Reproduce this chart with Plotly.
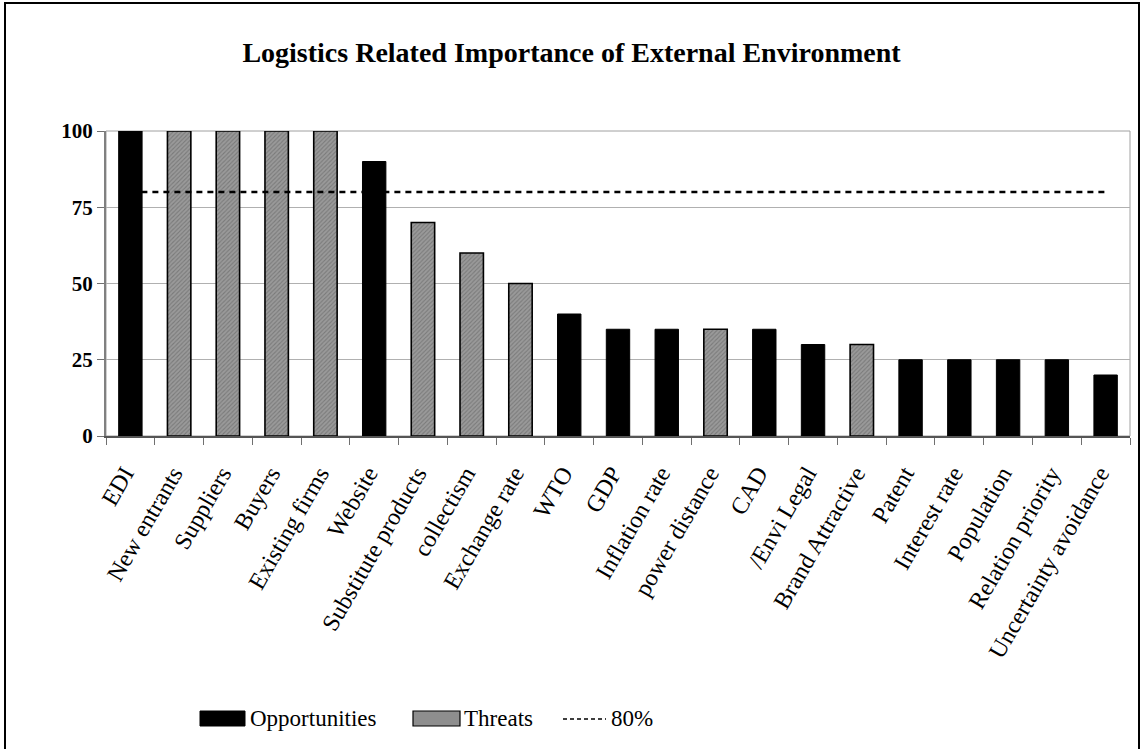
import plotly.graph_objects as go

# Factors in display order, with their importance scores
categories = [
    "EDI", "New entrants", "Suppliers", "Buyers", "Existing firms", "Website",
    "Substitute products", "collectism", "Exchange rate", "WTO", "GDP",
    "Inflation rate", "power distance", "CAD", "/Envi Legal", "Brand Attractive",
    "Patent", "Interest rate", "Population", "Relation priority",
    "Uncertainty avoidance",
]

opportunity_names = [
    "EDI", "Website", "WTO", "GDP", "Inflation rate", "CAD", "/Envi Legal",
    "Patent", "Interest rate", "Population", "Relation priority",
    "Uncertainty avoidance",
]
opportunity_values = [100, 90, 40, 35, 35, 35, 30, 25, 25, 25, 25, 20]

threat_names = [
    "New entrants", "Suppliers", "Buyers", "Existing firms",
    "Substitute products", "collectism", "Exchange rate", "power distance",
    "Brand Attractive",
]
threat_values = [100, 100, 100, 100, 70, 60, 50, 35, 30]

cutoff_value = 80
cutoff_label = "80%"

y_ticks = [0, 25, 50, 75, 100]

W, H = 1143, 749
L, R, T, B = 106, 13, 131, 313
PW, PH = W - L - R, H - T - B


def px(x):
    return (x - L) / PW


def py(y):
    return (H - B - y) / PH


SERIF = "Liberation Serif"

fig = go.Figure()

fig.add_trace(go.Bar(
    x=opportunity_names, y=opportunity_values, name="Opportunities",
    width=0.48, marker=dict(color="black", line=dict(color="black", width=1)),
    showlegend=False,
))
fig.add_trace(go.Bar(
    x=threat_names, y=threat_values, name="Threats",
    width=0.48,
    marker=dict(
        color="#8e8e8e",
        line=dict(color="black", width=1.6),
        pattern=dict(shape="/", fgcolor="#5a5a5a", bgcolor="#9a9a9a",
                     size=3, solidity=0.35),
    ),
    showlegend=False,
))
fig.add_trace(go.Scatter(
    x=categories, y=[cutoff_value] * len(categories), name=cutoff_label,
    mode="lines", line=dict(color="black", width=2.6, dash="6px,5px"),
    showlegend=False,
))

shapes = [
    # plot area frame
    dict(type="rect", xref="paper", yref="paper", x0=0, x1=1, y0=0, y1=1,
         line=dict(color="#a0a0a0", width=1), layer="below"),
    # outer frame
    dict(type="rect", xref="paper", yref="paper",
         x0=px(5), x1=px(1139), y0=py(760), y1=py(3),
         line=dict(color="black", width=2)),
    # legend keys
    dict(type="rect", xref="paper", yref="paper",
         x0=px(200), x1=px(245), y0=py(726), y1=py(711),
         fillcolor="black", line=dict(color="black", width=1)),
    dict(type="rect", xref="paper", yref="paper",
         x0=px(413), x1=px(460), y0=py(726), y1=py(711),
         fillcolor="#8e8e8e", line=dict(color="black", width=1.2)),
    dict(type="line", xref="paper", yref="paper",
         x0=px(563), x1=px(606), y0=py(719), y1=py(719),
         line=dict(color="black", width=1.6, dash="4px,3px")),
]

legend_font = dict(family=SERIF, size=23, color="black")
annotations = [
    dict(text="Opportunities", xref="paper", yref="paper", x=px(248), y=py(718),
         xanchor="left", yanchor="middle", showarrow=False, font=legend_font),
    dict(text="Threats", xref="paper", yref="paper", x=px(462), y=py(718),
         xanchor="left", yanchor="middle", showarrow=False, font=legend_font),
    dict(text=cutoff_label, xref="paper", yref="paper", x=px(609), y=py(718),
         xanchor="left", yanchor="middle", showarrow=False, font=legend_font),
]

fig.update_layout(
    width=W, height=H,
    margin=dict(l=L, r=R, t=T, b=B),
    paper_bgcolor="white", plot_bgcolor="white",
    font=dict(family=SERIF, color="black"),
    barmode="overlay",
    title=dict(text="<b>Logistics Related Importance of External Environment</b>",
               x=0.5, xref="container", xanchor="center",
               y=1 - 52 / H, yref="container", yanchor="middle",
               font=dict(family=SERIF, size=28, color="black")),
    shapes=shapes,
    annotations=annotations,
    showlegend=False,
)

fig.update_xaxes(
    type="category", categoryorder="array", categoryarray=categories,
    tickson="boundaries", ticks="outside", ticklen=7, tickcolor="#707070",
    tickangle=-60, tickfont=dict(family=SERIF, size=24, color="black"),
    ticklabelstandoff=12, ticklabelshift=-6,
    showline=True, linecolor="#555555", linewidth=2,
    showgrid=False, range=[-0.5, len(categories) - 0.5],
)
fig.update_yaxes(
    range=[0, 100], tickvals=y_ticks, ticktext=[str(v) for v in y_ticks],
    ticks="outside", ticklen=7, tickcolor="#707070",
    tickfont=dict(family=SERIF, size=21, color="black", weight="bold"),
    showline=True, linecolor="#808080", linewidth=2,
    showgrid=True, gridcolor="#b0b0b0", gridwidth=1, zeroline=False,
)

fig.write_html("out.html")
